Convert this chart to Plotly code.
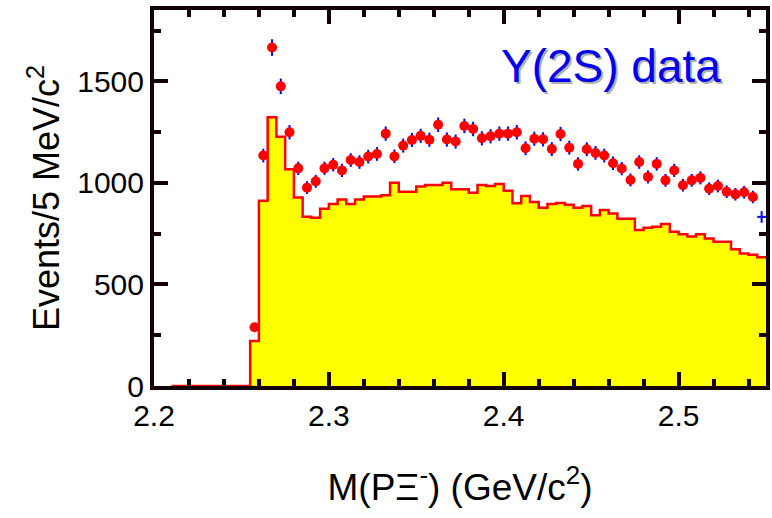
import numpy as np
import plotly.graph_objects as go

# Histogram (MC / background expectation), 5 MeV bins starting at 2.210 GeV
hist_start = 2.21
bin_width = 0.005
hist_counts = [
    0, 0, 0, 0, 0, 0, 0, 0, 0,
    222, 913, 1324, 1228, 1067, 929, 834, 829, 873, 897,
    918, 897, 918, 934, 934, 939, 1001, 957, 957, 983,
    990, 990, 1001, 969, 969, 952, 990, 985, 995, 962,
    900, 936, 906, 878, 897, 901, 893, 878, 887, 841,
    867, 850, 824, 824, 768, 780, 785, 798, 760, 747,
    736, 747, 727, 711, 711, 673, 653, 647, 634,
]

# Data points at bin centres, starting at 2.2575 GeV
data_start = 2.2575
data_counts = [
    289, 1135, 1667, 1476, 1250, 1072, 977, 1008, 1072, 1090,
    1062, 1113, 1103, 1130, 1143, 1243, 1131, 1184, 1212, 1232,
    1213, 1287, 1214, 1204, 1281, 1266, 1220, 1230, 1243, 1243,
    1250, 1171, 1218, 1215, 1167, 1241, 1174, 1094, 1166, 1148,
    1135, 1097, 1071, 1015, 1103, 1030, 1094, 1013, 1062, 989,
    1013, 1025, 972, 985, 957, 944, 954, 931, 833,
]

x_ticks = [2.2, 2.3, 2.4, 2.5]
y_ticks = [0, 500, 1000, 1500]

FONT = "Arial, 'Liberation Sans', sans-serif"
INK = "#14000a"

# step outline: left edges plus the closing right edge
edges = [round(hist_start + i * bin_width, 4) for i in range(len(hist_counts) + 1)]
step_y = hist_counts + [hist_counts[-1]]

xc = np.round(data_start + bin_width * np.arange(len(data_counts)), 4)
yc = np.array(data_counts, dtype=float)
err = np.sqrt(yc)

fig = go.Figure()

fig.add_trace(go.Scatter(
    x=edges, y=step_y, mode="lines",
    line=dict(shape="hv", color="#ff0000", width=2.5),
    fill="tozeroy", fillcolor="#ffff00",
    showlegend=False, hoverinfo="skip",
))

# error crosses first, so the round markers sit on top of them
fig.add_trace(go.Scatter(
    x=xc, y=yc, mode="markers",
    marker=dict(size=0, opacity=0),
    error_y=dict(type="data", array=err, color="#0000ff", thickness=2, width=0),
    error_x=dict(type="constant", value=bin_width / 2, color="#0000ff", thickness=2, width=0),
    showlegend=False, hoverinfo="skip",
))

# the last point is shown only by its error cross
fig.add_trace(go.Scatter(
    x=xc[:-1], y=yc[:-1], mode="markers",
    marker=dict(color="#ff0000", size=10, line=dict(width=0)),
    showlegend=False,
))

axis_common = dict(
    showline=True, linecolor=INK, linewidth=4, mirror="ticks",
    ticks="inside", ticklen=14, tickwidth=4, tickcolor=INK,
    showgrid=False, zeroline=False, layer="above traces",
    tickfont=dict(family=FONT, size=30, color="black"),
)

fig.update_xaxes(
    range=[2.2, 2.55], tickvals=x_ticks, ticktext=[f"{v:.1f}" for v in x_ticks],
    minor=dict(dtick=0.02, tick0=2.2, ticks="inside", ticklen=7, tickwidth=4, tickcolor=INK),
    title=dict(text="M(PΞ<sup>-</sup>) (GeV/c<sup>2</sup>)",
               font=dict(family=FONT, size=37, color="black"), standoff=44),
    **axis_common,
)
fig.update_yaxes(
    range=[0, 1852], tickvals=y_ticks, ticktext=[str(v) for v in y_ticks],
    minor=dict(dtick=250, tick0=0, ticks="inside", ticklen=7, tickwidth=4, tickcolor=INK),
    title=dict(text="Events/5 MeV/c<sup>2</sup>",
               font=dict(family=FONT, size=36, color="black"), standoff=8),
    **axis_common,
)

# label with a soft drop shadow
label = "Y(2S) data"
for dx, dy, col in [(2, -2, "#b0b0b0"), (0, 0, "#0000ee")]:
    fig.add_annotation(
        text=label, xref="paper", yref="paper", x=0.747, y=0.851,
        xanchor="center", yanchor="middle", showarrow=False,
        xshift=dx, yshift=dy,
        font=dict(family=FONT, size=46, color=col),
    )

fig.update_layout(
    width=772, height=518,
    margin=dict(l=154, r=6, t=10, b=132, autoexpand=False),
    paper_bgcolor="white", plot_bgcolor="white",
)

fig.write_html("out.html")
